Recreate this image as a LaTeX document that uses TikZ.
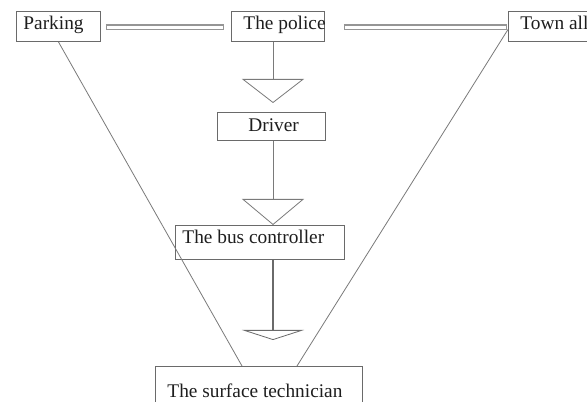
\documentclass[tikz,border=0pt]{standalone}
\usepackage{fontspec}
\setmainfont{Liberation Serif}
\usetikzlibrary{arrows.meta,calc}
\newdimen\pu \pu=0.75pt
\newcommand\boxtxt[3]{\makebox[#1\pu][l]{\hspace*{#2\pu}#3}}
\definecolor{linegray}{HTML}{7A7A7A}
\definecolor{boxgray}{HTML}{6A6A6A}
\definecolor{txtgray}{HTML}{1E1E1E}
\begin{document}
\begin{tikzpicture}[x=0.75pt,y=-0.75pt,
  box/.style={draw=boxgray, line width=0.7pt, inner sep=0pt, anchor=north west,
    text=txtgray, text height=14\pu, font=\fontsize{14.5pt}{16pt}\selectfont},
  bar/.style 2 args={line width=4.5pt, draw=linegray!80, shorten <=#1pt, shorten >=#2pt,
    postaction={draw=white, line width=2.9pt, shorten <=#1pt+0.8pt, shorten >=#2pt+0.8pt}},
  flow/.style={draw=linegray, line width=0.7pt},
  diag/.style={draw=linegray, line width=0.6pt}
]
\useasboundingbox (0,0) rectangle (587,402);
\clip (0,0) rectangle (587,402);
\fill[white] (0,0) rectangle (587,402);
\coordinate (ax) at (273,0);
\node[box, minimum height=30\pu, text depth=8\pu] (parking) at (16,11) {\boxtxt{84}{7}{Parking}};
\node[box, minimum height=30\pu, text depth=8\pu] (police) at (231,11) {\boxtxt{93}{12}{The police}};
\node[box, minimum height=30\pu, text depth=8\pu] (town) at (508,11) {\boxtxt{100}{12}{Town all}};
\node[box, minimum height=28\pu, text depth=4\pu] (driver) at (217,112) {\boxtxt{108}{31}{Driver}};
\node[box, minimum height=34\pu, text depth=12\pu] (bus) at (175,225) {\boxtxt{169}{7}{The bus controller}};
\node[box, minimum height=60\pu, text depth=12\pu] (surface) at (155,366) {\boxtxt{207}{12}{The surface technician}};
% hollow bars
\draw[bar={3.75}{5.25}] ([yshift=-0.75pt]parking.east) -- ([yshift=-0.75pt]police.west);
\draw[bar={14.25}{0.75}] ([yshift=-0.75pt]police.east) -- ([yshift=-0.75pt]town.west);
% vertical flow
\draw[flow, -{Triangle[open, width=46.5pt, length=18pt, line width=0.6pt]}, shorten >=6.75pt]
  (police.south -| ax) -- (driver.north -| ax);
\draw[flow, -{Triangle[open, width=46.5pt, length=19.5pt, line width=0.6pt]}]
  (driver.south -| ax) -- (bus.north -| ax);
\draw[flow, line width=1.6pt, draw=boxgray, -{Triangle[open, width=46.5pt, length=7.5pt, line width=0.6pt]}, shorten >=19.5pt]
  (bus.south -| ax) -- (surface.north -| ax);
% diagonals
\draw[diag] (parking.south) -- ([xshift=65.25pt]surface.north west);
\draw[diag] ([yshift=-2.25pt]town.west) -- ([xshift=106.5pt]surface.north west);
\end{tikzpicture}
\end{document}
